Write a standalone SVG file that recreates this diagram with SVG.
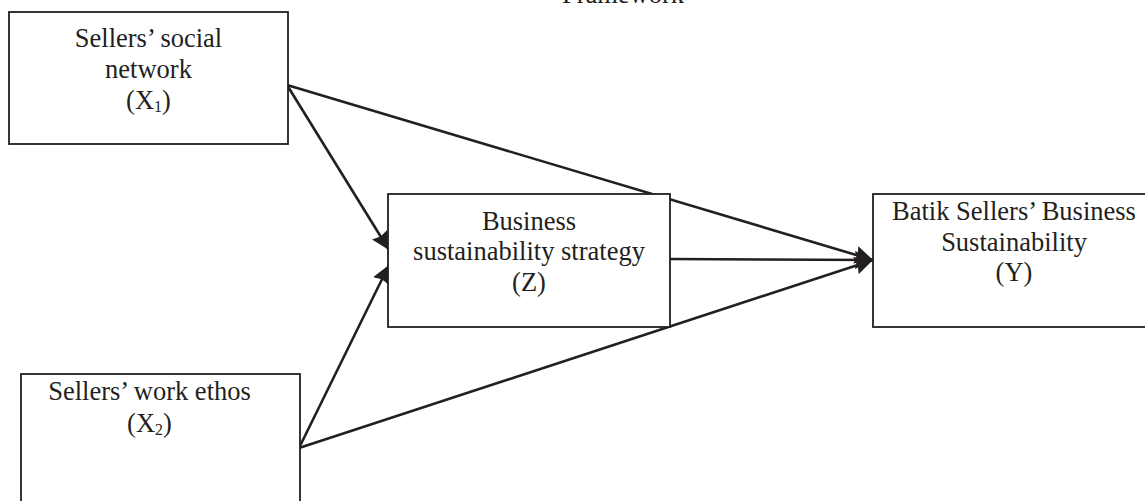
<svg xmlns="http://www.w3.org/2000/svg" width="1145" height="501" viewBox="0 0 1145 501">
<style>
.box{fill:#fff;stroke:#231f20;stroke-width:1.8}
.lbl{font-family:"Liberation Serif","Times New Roman",serif;font-size:26.5px;fill:#231f20;text-anchor:middle}
.sub{font-size:16px}
.edge{stroke:#231f20;stroke-width:2.6;fill:none}
</style>
<defs>
<marker id="arr" markerUnits="userSpaceOnUse" markerWidth="20" markerHeight="18" refX="18" refY="9" orient="auto">
<path d="M0,0 L18,9 L0,18 L2,9 z" fill="#231f20"/>
</marker>
</defs>
<rect width="1145" height="501" fill="#fff"/>
<text class="lbl" x="623" y="3">Framework</text>
<g id="connectors">
<line class="edge" x1="287" y1="85" x2="389" y2="250" marker-end="url(#arr)"/>
<line class="edge" x1="299" y1="448" x2="389" y2="265" marker-end="url(#arr)"/>
<line class="edge" x1="287" y1="85" x2="873" y2="260" marker-end="url(#arr)"/>
<line class="edge" x1="299" y1="448" x2="873" y2="260" marker-end="url(#arr)"/>
<line class="edge" x1="670" y1="259" x2="873" y2="260" marker-end="url(#arr)"/>
</g>
<g id="node-x1">
<rect class="box" x="9" y="12" width="279" height="132"/>
<text class="lbl" x="148.5" y="47">Sellers’ social</text>
<text class="lbl" x="148.5" y="78">network</text>
<text class="lbl" x="148.5" y="109">(X<tspan class="sub" dy="3">1</tspan><tspan dy="-3">)</tspan></text>
</g>
<g id="node-z">
<rect class="box" x="388" y="194" width="282" height="133"/>
<text class="lbl" x="529" y="230">Business</text>
<text class="lbl" x="529" y="260">sustainability strategy</text>
<text class="lbl" x="529" y="291">(Z)</text>
</g>
<g id="node-y">
<rect class="box" x="873" y="194" width="290" height="133"/>
<text class="lbl" x="1014" y="220">Batik Sellers’ Business</text>
<text class="lbl" x="1014" y="251">Sustainability</text>
<text class="lbl" x="1014" y="281">(Y)</text>
</g>
<g id="node-x2">
<rect class="box" x="21" y="374" width="279" height="140"/>
<text class="lbl" x="149.5" y="400">Sellers’ work ethos</text>
<text class="lbl" x="149.5" y="432">(X<tspan class="sub" dy="3">2</tspan><tspan dy="-3">)</tspan></text>
</g>
</svg>
